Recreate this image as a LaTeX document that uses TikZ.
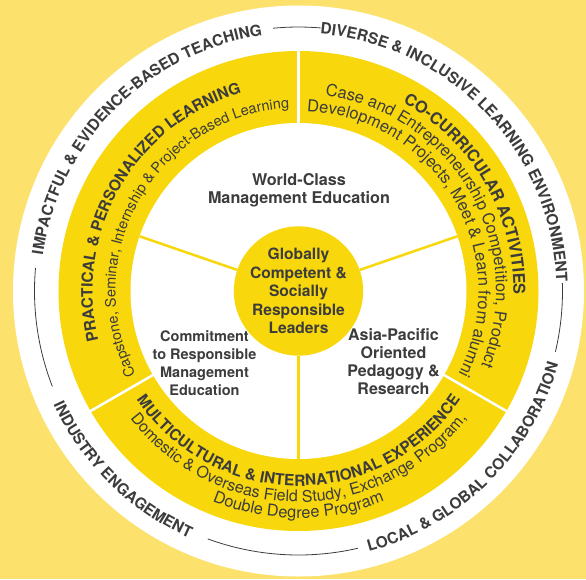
\documentclass[tikz,border=0pt]{standalone}
\usepackage{fontspec}
\setmainfont{TeX Gyre Heros}
\usetikzlibrary{decorations.text}
\definecolor{paper}{HTML}{FCE26C}
\definecolor{gold}{HTML}{F8D70C}
\definecolor{ink}{HTML}{3C3C3C}
\newcommand\headfont[1][15.5]{\bfseries\fontsize{#1}{#1}\selectfont}
\newcommand\bodyfont[1][15]{\fontsize{#1}{#1}\selectfont}

\begin{document}
\begin{tikzpicture}[x=1pt,y=1pt,
  every node/.style={align=center,text=ink},
  label/.style={font=\bfseries\fontsize{#1}{18}\selectfont},
  spoke/.style={gold,line width=2.5pt},
  cut/.style={white,line width=2.5pt},
  rim/.style={ink,line width=0.8pt},
  curve/.style={decorate,decoration={text along path,text align=center,text color=ink,text={#1}}}]
\useasboundingbox (-298.5,-288) rectangle (287.5,291);
\fill[paper] (-298.5,-288) rectangle (287.5,291);
\fill[white] (0,0) circle[radius=285.5];
\fill[gold] (0,0) circle[radius=240];
\fill[white] (0,0) circle[radius=168];
\foreach \a in {90,210,330}
  \draw[cut] (\a:167) -- (\a:241);

\node[circle,fill=gold,minimum size=120pt,inner sep=0pt,
  font=\bfseries\fontsize{15.6}{18.5}\selectfont] (core) at (0,0)
  {Globally\\Competent \&\\Socially\\Responsible\\Leaders};
\foreach \a in {19,161,270}
  \draw[spoke] (core.\a) -- (\a:168);

\node[label=16.2] (world) at (0.5,101) {World-Class\\Management Education};
\node[label=14.5] (commit) at (-94,-72) {Commitment\\to Responsible\\Management\\Education};
\node[label=16] (asia) at (95,-71) {Asia-Pacific\\Oriented\\Pedagogy \&\\Research};

\path[curve={|\headfont|IMPACTFUL {\&} EVIDENCE-BASED TEACHING}]
  (215:258) arc[start angle=215,end angle=55,radius=258];
\path[curve={|\headfont|DIVERSE {\&} INCLUSIVE LEARNING ENVIRONMENT}]
  (123.6:258) arc[start angle=123.6,end angle=-36.4,radius=258];
\path[curve={|\headfont|LOCAL {\&} GLOBAL COLLABORATION}]
  (234.7:270) arc[start angle=234.7,end angle=394.7,radius=270];
\path[curve={|\headfont|INDUSTRY ENGAGEMENT}]
  (145.5:270) arc[start angle=145.5,end angle=305.5,radius=270];

\draw[rim] (95.5:264) arc[start angle=95.5,end angle=85.2,radius=264];
\draw[rim] (1.7:264) arc[start angle=1.7,end angle=-13.3,radius=264];
\draw[rim] (249.9:264) arc[start angle=249.9,end angle=283,radius=264];
\draw[rim] (175:264) arc[start angle=175,end angle=201.2,radius=264];

\path[curve={|\headfont|PRACTICAL {\&} PERSONALIZED LEARNING}]
  (230:206) arc[start angle=230,end angle=70,radius=206];
\path[curve={|\bodyfont[14.5]|Capstone, Seminar, Internship {\&} Project-Based Learning}]
  (230:183) arc[start angle=230,end angle=70,radius=183];

\path[curve={|\headfont[16.3]|CO-CURRICULAR ACTIVITIES}]
  (110:215) arc[start angle=110,end angle=-50,radius=215];
\path[curve={|\bodyfont[16.5]|Case and Entrepreneurship Competition, Product}]
  (110:197.5) arc[start angle=110,end angle=-50,radius=197.5];
\path[curve={|\bodyfont[16.5]|Development Projects, Meet {\&} Learn from alumni}]
  (110:180) arc[start angle=110,end angle=-50,radius=180];

\path[curve={|\headfont|MULTICULTURAL {\&} INTERNATIONAL EXPERIENCE}]
  (190:195) arc[start angle=190,end angle=350,radius=195];
\path[curve={|\bodyfont[16]|Domestic {\&} Overseas Field Study, Exchange Program,}]
  (190:211) arc[start angle=190,end angle=350,radius=211];
\path[curve={|\bodyfont[16.3]|Double Degree Program}]
  (190:227) arc[start angle=190,end angle=350,radius=227];
\end{tikzpicture}
\end{document}
